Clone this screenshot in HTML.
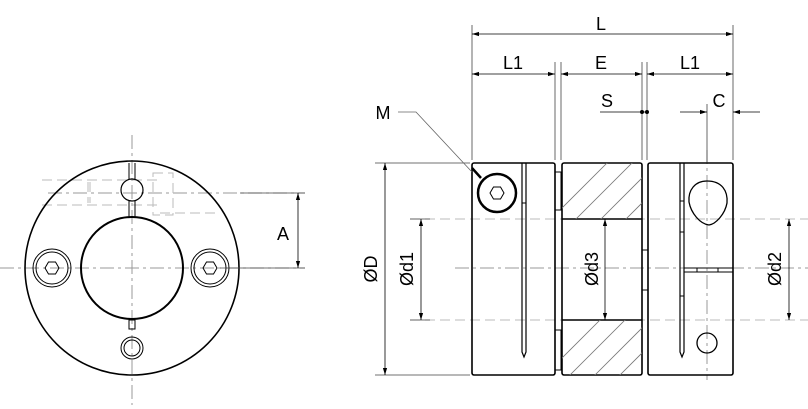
<!DOCTYPE html>
<html><head><style>html,body{margin:0;padding:0;background:#fff}svg{display:block}</style></head>
<body>
<svg width="808" height="409" viewBox="0 0 808 409" xmlns="http://www.w3.org/2000/svg" font-family="Liberation Sans, sans-serif">
<defs>
<marker id="a" viewBox="0 0 10 10" refX="10" refY="5" markerWidth="14" markerHeight="7" markerUnits="userSpaceOnUse" orient="auto-start-reverse"><path d="M0,2 L10,5 L0,8z" fill="#000"/></marker>
<clipPath id="ht"><rect x="562" y="163" width="80" height="56"/></clipPath>
<clipPath id="hb"><rect x="562" y="320" width="80" height="55"/></clipPath>
</defs>
<g fill="none" stroke="#999" stroke-width="1" stroke-dasharray="14,4,3,4">
<line x1="0" y1="268" x2="305" y2="268"/>
<line x1="132" y1="135" x2="132" y2="405"/>
<line x1="48" y1="193" x2="305" y2="193"/>
<line x1="455" y1="268" x2="808" y2="268"/>
<line x1="707" y1="150" x2="707" y2="380"/>
</g>
<g fill="none" stroke="#bbb" stroke-width="1" stroke-dasharray="10,5">
<path d="M42,180 H160 M42,205 H160 M88,182 V203 M90,182 V203 M153,173 H173 V215 H153 Z M160,213 H220"/>
<line x1="410" y1="219" x2="808" y2="219"/>
<line x1="410" y1="320" x2="808" y2="320"/>
</g>
<g fill="none" stroke="#000" stroke-width="1.6">
<circle cx="132" cy="268" r="107"/>
<circle cx="132" cy="268" r="51" stroke-width="2"/>
<circle cx="52" cy="268" r="19" stroke-width="1"/><circle cx="52" cy="268" r="16" stroke-width="1"/>
<circle cx="210" cy="268" r="19" stroke-width="1"/><circle cx="210" cy="268" r="16" stroke-width="1"/>
<polygon points="45,268 48.5,262 55.5,262 59,268 55.5,274 48.5,274" stroke-width="1"/>
<polygon points="203,268 206.5,262 213.5,262 217,268 213.5,274 206.5,274" stroke-width="1"/>
<circle cx="132" cy="348" r="11" stroke-width="1"/><circle cx="132" cy="348" r="8" stroke-width="1"/>
<circle cx="132" cy="190" r="11" stroke-width="1.2"/>
<path d="M129,163 V179 M135,163 V179 M129,201 V218 M135,201 V218" stroke-width="1"/>
<rect x="129" y="320" width="6" height="9" stroke-width="1"/>
<rect x="472" y="163" width="83" height="212" rx="2"/>
<path d="M522,163 V352 L524,357 L526,352 V163" stroke-width="1.2"/>
<path d="M522,203 H526" stroke-width="1"/>
<circle cx="497" cy="193" r="19" stroke-width="2.5"/>
<polygon points="490,193 493.5,187 500.5,187 504,193 500.5,199 493.5,199" stroke-width="1"/>
<rect x="555" y="172" width="6" height="38" stroke-width="1"/>
<rect x="555" y="330" width="6" height="40" stroke-width="1"/>
<rect x="562" y="163" width="80" height="212" rx="2"/>
<line x1="562" y1="219" x2="642" y2="219"/>
<line x1="562" y1="320" x2="642" y2="320"/>
<rect x="642" y="250" width="6" height="40" stroke-width="1"/>
<rect x="648" y="163" width="85" height="212" rx="2"/>
<path d="M680,163 V352 L682,357 L684,352 V163" stroke-width="1.2"/>
<path d="M680,201 H684 M680,232 H684 M680,296 H684" stroke-width="1"/>
<path d="M684,268 H733 M684,272 H733 M697,268 V272 M718,268 V272" stroke-width="1"/>
<path d="M707,181 C722,181 728,191 727,203 C725,214 716,224 709,225 C700,224 691,213 689,202 C688,190 695,181 707,181 Z" stroke-width="1.3"/>
<circle cx="707" cy="343" r="10" stroke-width="1.3"/>
</g>
<g stroke="#777" stroke-width="0.8" fill="none">
<g clip-path="url(#ht)"><path d="M520,250 L620,150 M545,250 L645,150 M570,250 L670,150 M595,250 L695,150 M620,250 L720,150"/></g>
<g clip-path="url(#hb)"><path d="M520,400 L620,300 M545,400 L645,300 M570,400 L670,300 M595,400 L695,300 M620,400 L720,300 M645,400 L745,300"/></g>
</g>
<g stroke="#444" stroke-width="0.8" fill="none">
<path d="M472,25 V160 M555,62 V160 M561,62 V160 M642,62 V160 M647,62 V160 M733,25 V160 M707,104 V162"/>
<path d="M375,163 H470 M375,375 H470 M410,219 H430 M410,320 H430"/>
<line x1="240" y1="193" x2="305" y2="193"/>
<line x1="220" y1="268" x2="305" y2="268"/>
<path d="M398,112 H416 L472,172" stroke="#666"/>
</g>
<g stroke="#000" stroke-width="0.8" fill="none">
<line x1="472" y1="34" x2="733" y2="34" marker-start="url(#a)" marker-end="url(#a)"/>
<line x1="472" y1="74" x2="555" y2="74" marker-start="url(#a)" marker-end="url(#a)"/>
<line x1="561" y1="74" x2="642" y2="74" marker-start="url(#a)" marker-end="url(#a)"/>
<line x1="647" y1="74" x2="733" y2="74" marker-start="url(#a)" marker-end="url(#a)"/>
<line x1="600" y1="112" x2="647" y2="112"/>
<line x1="680" y1="112" x2="707" y2="112" marker-end="url(#a)"/>
<line x1="760" y1="112" x2="733" y2="112" marker-end="url(#a)"/>
<line x1="298" y1="193" x2="298" y2="268" marker-start="url(#a)" marker-end="url(#a)"/>
<line x1="385" y1="163" x2="385" y2="375" marker-start="url(#a)" marker-end="url(#a)"/>
<line x1="421" y1="219" x2="421" y2="320" marker-start="url(#a)" marker-end="url(#a)"/>
<line x1="605" y1="219" x2="605" y2="320" marker-start="url(#a)" marker-end="url(#a)"/>
<line x1="789" y1="219" x2="789" y2="320" marker-start="url(#a)" marker-end="url(#a)"/>
<line x1="472" y1="168" x2="481" y2="178" stroke-width="2.5"/>
</g>
<circle cx="642" cy="112" r="2" fill="#000"/><circle cx="647" cy="112" r="2" fill="#000"/>
<g font-size="18" fill="#000" text-anchor="middle">
<text x="601" y="30">L</text>
<text x="513" y="69">L1</text>
<text x="601" y="69">E</text>
<text x="690" y="69">L1</text>
<text x="607" y="107">S</text>
<text x="719" y="107">C</text>
<text x="383" y="119">M</text>
<text x="283" y="240">A</text>
<text transform="translate(377,269) rotate(-90)">ØD</text>
<text transform="translate(413,269) rotate(-90)">Ød1</text>
<text transform="translate(598,269) rotate(-90)">Ød3</text>
<text transform="translate(781,269) rotate(-90)">Ød2</text>
</g>
</svg>
</body></html>
